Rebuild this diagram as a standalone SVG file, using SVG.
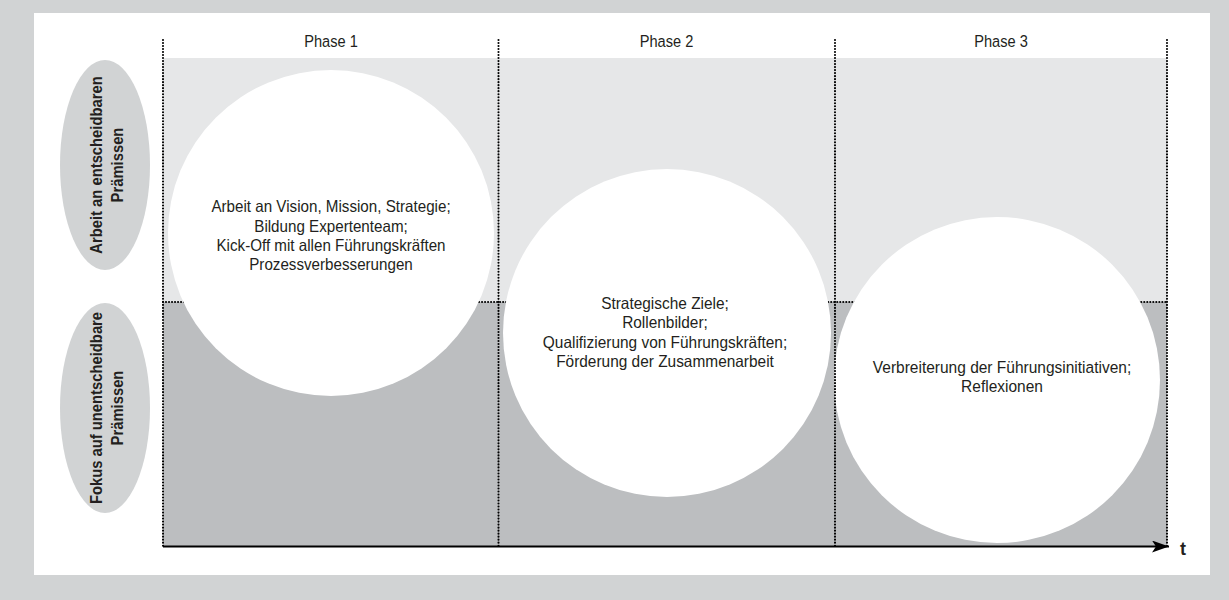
<svg xmlns="http://www.w3.org/2000/svg" width="1229" height="600" viewBox="0 0 1229 600">
<style>
.lbl{font-family:"Liberation Sans",Arial,sans-serif;font-size:16.5px;fill:#231f20;text-anchor:middle}
.ph{font-family:"Liberation Sans",Arial,sans-serif;font-size:17px;fill:#231f20;text-anchor:middle}
.side{font-family:"Liberation Sans",Arial,sans-serif;font-size:17px;font-weight:bold;fill:#231f20;text-anchor:middle}
.dot{stroke:#000;stroke-width:2.1;stroke-linecap:round;stroke-dasharray:0.01 3;fill:none}
.circ{fill:#fff}
.ell{fill:#d1d3d4}
</style>
<defs>
<marker id="ah" markerWidth="18" markerHeight="12" refX="17" refY="6" orient="auto" markerUnits="userSpaceOnUse">
<path d="M0,0 L17,6 L0,12 L4,6 Z" fill="#000"/>
</marker>
</defs>
<rect width="1229" height="600" fill="#d1d3d4"/>
<rect x="34" y="13" width="1176" height="562" fill="#fff"/>
<g id="bands">
<rect x="163" y="58" width="1004" height="244" fill="#e6e7e8"/>
<rect x="163" y="302" width="1004" height="244" fill="#bcbec0"/>
</g>
<g id="connectors">
<line class="dot" x1="163" y1="302" x2="1167" y2="302"/>
</g>
<g id="phase1">
<circle class="circ" cx="331" cy="233" r="163"/>
<g transform="translate(331,0) scale(0.92,1)">
<text class="lbl" x="0" y="212.5">Arbeit an Vision, Mission, Strategie;</text>
<text class="lbl" x="0" y="231.8">Bildung Expertenteam;</text>
<text class="lbl" x="0" y="251.1">Kick-Off mit allen Führungskräften</text>
<text class="lbl" x="0" y="270.4">Prozessverbesserungen</text>
</g>
</g>
<g id="phase2">
<circle class="circ" cx="667" cy="333" r="164"/>
<g transform="translate(665,0) scale(0.935,1)">
<text class="lbl" x="0" y="309">Strategische Ziele;</text>
<text class="lbl" x="0" y="328.5">Rollenbilder;</text>
<text class="lbl" x="0" y="348">Qualifizierung von Führungskräften;</text>
<text class="lbl" x="0" y="367.5">Förderung der Zusammenarbeit</text>
</g>
</g>
<g id="phase3">
<circle class="circ" cx="997" cy="380" r="163"/>
<g transform="translate(1002,0) scale(0.94,1)">
<text class="lbl" x="0" y="373">Verbreiterung der Führungsinitiativen;</text>
<text class="lbl" x="0" y="392.5">Reflexionen</text>
</g>
</g>
<g id="axes">
<line class="dot" x1="163" y1="40" x2="163" y2="546"/>
<line class="dot" x1="498.5" y1="40" x2="498.5" y2="546"/>
<line class="dot" x1="835" y1="40" x2="835" y2="546"/>
<line class="dot" x1="1167" y1="40" x2="1167" y2="546"/>
<line x1="163" y1="546.5" x2="1169" y2="546.5" stroke="#000" stroke-width="2" marker-end="url(#ah)"/>
<text class="side" x="1183" y="555" style="font-size:18px">t</text>
</g>
<g id="headers">
<g transform="translate(331,0) scale(0.86,1)"><text class="ph" x="0" y="47.5">Phase 1</text></g>
<g transform="translate(666.5,0) scale(0.86,1)"><text class="ph" x="0" y="47.5">Phase 2</text></g>
<g transform="translate(1001,0) scale(0.86,1)"><text class="ph" x="0" y="47.5">Phase 3</text></g>
</g>
<g id="row1">
<ellipse class="ell" cx="105" cy="165" rx="45" ry="105"/>
<text class="side" transform="translate(102,165) rotate(-90) scale(0.87,1)">Arbeit an entscheidbaren<tspan x="0" dy="21">Prämissen</tspan></text>
</g>
<g id="row2">
<ellipse class="ell" cx="105" cy="408" rx="45" ry="105"/>
<text class="side" transform="translate(102,408) rotate(-90) scale(0.87,1)">Fokus auf unentscheidbare<tspan x="0" dy="21">Prämissen</tspan></text>
</g>
</svg>
